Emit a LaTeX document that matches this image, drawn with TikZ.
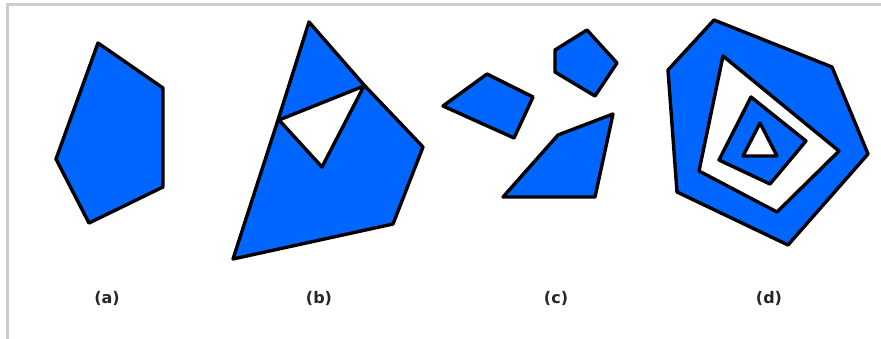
\documentclass[tikz,border=0pt]{standalone}
\usepackage{fontspec}
\setsansfont{DejaVu Sans}
\usepackage{xcolor}
\usepackage{tikz}
\definecolor{polyblue}{RGB}{0,102,255}
\definecolor{framegray}{RGB}{204,204,204}

\begin{document}
\begin{tikzpicture}[x=1pt,y=-1pt,
  poly/.style={draw=black,line width=3.4pt,line join=round,fill=polyblue},
  hole/.style={draw=black,line width=3.4pt,line join=round,fill=white},
  lbl/.style={font=\sffamily\bfseries\fontsize{16}{18}\selectfont,text=black!85}]
\useasboundingbox (0,0) rectangle (881,339);
\fill[white] (0,0) rectangle (881,339);
\draw[framegray,line width=3pt] (7.5,339) -- (7.5,4.5) -- (881,4.5);
% (a)
\draw[poly] (98,43) -- (163,88) -- (163,187) -- (89,223) -- (56,159) -- cycle;
% (b)
\draw[poly] (309,22) -- (364,85) -- (423,147) -- (393,224) -- (233,259) -- (278,120) -- cycle;
\draw[hole] (279,120) -- (364,86) -- (322,167) -- cycle;
% (c)
\draw[poly] (443,106) -- (487,74) -- (533,97) -- (514,138) -- cycle;
\draw[poly] (555,50) -- (587,30) -- (617,63) -- (595,96) -- (555,72) -- cycle;
\draw[poly] (503,197) -- (558,135) -- (613,114) -- (595,197) -- cycle;
% (d)
\draw[poly] (714,20) -- (832,67) -- (868,154) -- (788,245) -- (677,192) -- (668,70) -- cycle;
\draw[hole] (723,56) -- (839,151) -- (777,212) -- (699,171) -- cycle;
\draw[poly] (751,97) -- (806,141) -- (770,184) -- (719,160) -- cycle;
\draw[hole] (760,123) -- (777,156) -- (743,156) -- cycle;
% labels
\node[lbl] (la) at (107,298) {(a)};
\node[lbl] (lb) at (319,298) {(b)};
\node[lbl] (lc) at (556,298) {(c)};
\node[lbl] (ld) at (769,298) {(d)};
\end{tikzpicture}
\end{document}
